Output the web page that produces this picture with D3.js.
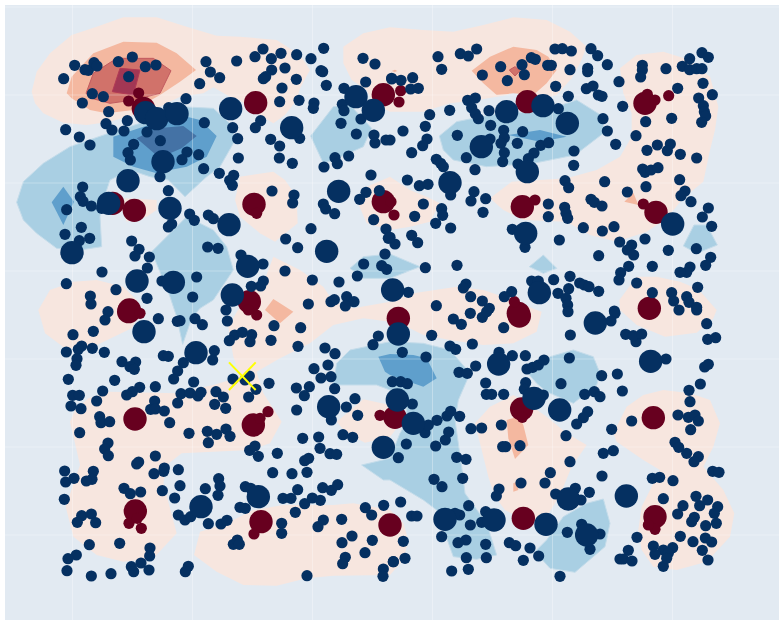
<!DOCTYPE html>
<html><head><meta charset="utf-8">
<script src="https://cdn.jsdelivr.net/npm/d3@7"></script>
<style>html,body{margin:0;padding:0;background:#fff}svg{display:block}</style>
</head><body><svg id="c" width="779" height="621"></svg>
<script>
// Data units are thirds of a plot step; each quadrant's readings are relative to its origin.
const originNW=[0,0], originNE=[1170,0], originSW=[0,930], originSE=[1170,930];

const navySmallNW=[[224,196],[255,209],[265,211],[282,188],[291,198],[355,185],[397,171],[436,200],[468,195],[191,236],[386,230],[277,281],[310,290],[247,309],[326,335],[382,362],[318,371],[336,390],[372,393],[197,389],[238,411],[270,435],[441,396],[481,422],[401,433],[384,458],[391,480],[561,456],[596,464],[546,479],[611,506],[480,530],[613,368],[558,296],[506,323],[618,185],[631,216],[659,233],[599,251],[710,183],[789,147],[765,170],[814,176],[843,160],[890,164],[933,176],[971,145],[815,210],[855,204],[797,230],[790,236],[889,238],[846,264],[839,305],[897,301],[942,309],[940,325],[963,212],[968,215],[979,256],[1032,265],[1027,313],[1032,332],[1083,357],[1023,370],[1069,402],[1122,405],[1125,429],[1158,420],[1046,468],[1005,473],[1012,491],[972,501],[1113,525],[1098,577],[1079,598],[1138,572],[1121,659],[1158,687],[1165,715],[1155,762],[1091,792],[1145,797],[1160,808],[1072,828],[1017,846],[937,840],[855,813],[877,490],[838,474],[839,438],[812,418],[899,415],[782,362],[766,383],[698,383],[713,416],[715,474],[658,520],[701,526],[689,541],[697,556],[816,573],[882,585],[878,609],[970,612],[977,627],[1004,641],[933,686],[857,717],[893,743],[723,765],[789,792],[790,843],[754,859],[782,858],[505,572],[248,561],[241,590],[249,604],[274,618],[305,625],[200,629],[244,682],[195,703],[269,715],[238,722],[395,723],[417,748],[405,768],[448,771],[442,804],[306,816],[199,851],[271,888],[273,912],[348,869],[441,895],[578,891],[590,831],[486,843],[623,741],[654,745],[569,642],[583,661],[625,645],[640,656],[515,672],[505,681],[925,912],[993,905],[1003,899],[1040,890],[1062,905],[1036,918],[1097,246],[1125,192],[1089,175],[1175,235]];
const navySmallNE=[[144,170],[155,208],[211,161],[235,168],[260,147],[277,225],[332,200],[352,242],[396,194],[403,224],[424,173],[436,178],[473,196],[484,196],[495,147],[517,146],[544,153],[540,209],[603,146],[623,167],[652,194],[593,205],[593,215],[497,259],[535,289],[505,326],[589,266],[609,258],[625,285],[636,289],[687,245],[757,196],[757,210],[752,231],[828,206],[877,199],[899,176],[899,209],[920,206],[936,206],[936,158],[955,172],[939,250],[863,265],[926,294],[967,284],[940,317],[943,335],[947,348],[935,367],[845,355],[767,365],[698,319],[738,407],[652,393],[639,356],[677,433],[552,453],[551,496],[233,301],[256,294],[245,323],[256,341],[265,356],[297,332],[302,376],[341,391],[343,413],[333,430],[382,430],[398,395],[300,417],[343,458],[338,485],[452,436],[476,428],[432,459],[415,476],[384,492],[229,473],[255,509],[202,406],[179,331],[119,344],[106,379],[39,393],[111,417],[98,437],[65,458],[139,478],[152,490],[160,500],[52,540],[88,557],[114,553],[182,585],[252,575],[243,603],[287,596],[279,637],[100,612],[155,626],[158,646],[74,649],[137,670],[182,684],[65,706],[83,728],[15,732],[0,712],[106,803],[201,796],[367,688],[405,742],[508,720],[475,612],[475,650],[524,622],[528,640],[533,655],[580,683],[637,693],[672,680],[525,542],[536,563],[644,545],[603,598],[613,607],[636,618],[712,576],[768,560],[758,507],[765,517],[783,510],[804,503],[771,451],[802,435],[841,432],[832,452],[871,463],[920,474],[869,539],[885,573],[873,587],[903,605],[955,624],[937,651],[965,679],[919,746],[962,772],[947,796],[900,801],[890,817],[870,817],[923,862],[835,751],[765,717],[689,726],[725,735],[712,750],[731,765],[626,767],[716,799],[692,818],[687,840],[787,799],[740,849],[787,878],[845,878],[851,903],[890,890],[897,907],[920,922],[491,839],[540,829],[569,849],[583,855],[597,860],[626,874],[504,880],[536,866],[528,895],[533,915],[425,843],[445,843],[365,875],[343,890],[228,852],[220,864],[242,890],[277,903],[298,925],[139,917],[55,877],[673,933],[5,237],[33,241],[68,233],[62,267],[85,265],[0,420]];
const navySmallSW=[[324,5],[315,30],[475,26],[532,34],[540,32],[585,26],[607,44],[682,33],[678,0],[219,74],[280,64],[245,108],[235,118],[277,115],[199,126],[313,127],[231,146],[228,166],[366,155],[407,156],[390,170],[403,178],[205,208],[344,211],[466,230],[419,232],[397,245],[380,255],[308,243],[218,256],[238,256],[290,273],[213,288],[243,296],[464,273],[452,298],[466,297],[493,303],[533,279],[543,251],[570,249],[594,258],[603,247],[648,245],[670,261],[644,283],[677,295],[509,338],[299,320],[303,338],[329,335],[239,368],[324,399],[314,417],[325,437],[416,456],[410,462],[466,438],[493,474],[491,484],[462,491],[535,479],[194,483],[197,516],[222,505],[280,484],[276,508],[259,513],[372,535],[391,551],[422,546],[193,568],[487,542],[540,527],[524,564],[616,536],[656,506],[660,528],[654,556],[736,530],[752,535],[849,565],[873,565],[893,539],[914,581],[937,564],[961,571],[968,533],[994,541],[1013,524],[886,607],[818,488],[876,491],[921,487],[914,452],[926,445],[832,430],[749,421],[765,408],[775,439],[567,370],[622,364],[650,373],[678,357],[690,379],[625,398],[704,75],[727,67],[755,74],[688,92],[750,95],[813,91],[822,47],[902,53],[894,109],[975,114],[1005,131],[1119,104],[1135,78],[984,165],[942,176],[963,204],[993,200],[1004,236],[928,230],[913,257],[889,234],[1065,266],[1039,291],[1073,316],[994,330],[890,300],[908,385],[956,381],[960,415],[1029,374],[1058,382],[990,431],[1010,433],[746,261],[768,238],[807,220],[699,207],[735,210],[748,198],[643,122],[638,150],[550,158],[533,183],[521,207],[581,216],[490,137],[505,139],[245,617],[274,612],[232,637],[287,638],[268,704],[359,700],[450,714],[449,738],[423,759],[394,770],[401,785],[447,780],[229,735],[204,746],[201,782],[274,798],[333,791],[565,769],[556,785],[700,703],[712,690],[718,703],[535,615],[555,630],[572,620],[625,641],[663,642],[681,631],[720,592],[736,595],[845,640],[845,670],[954,650],[970,630],[1025,628],[1026,698],[1056,678],[1117,691],[1095,728],[1036,742],[1028,761],[1150,777],[1149,799],[921,797],[1096,593],[1115,615],[1151,586],[1180,755]];
const navySmallSE=[[125,76],[190,27],[214,43],[241,10],[277,22],[290,5],[341,53],[247,102],[180,108],[197,118],[108,141],[37,127],[327,127],[367,137],[406,137],[411,177],[428,172],[445,165],[462,150],[538,144],[257,168],[207,187],[232,190],[287,219],[289,253],[305,253],[341,253],[513,221],[407,218],[403,238],[460,255],[584,253],[613,245],[630,260],[635,197],[682,192],[697,243],[593,305],[580,323],[560,342],[528,377],[665,358],[725,333],[670,422],[640,430],[540,455],[636,498],[481,488],[465,519],[393,519],[327,537],[319,558],[497,552],[556,535],[573,570],[598,547],[820,566],[863,612],[879,587],[929,587],[918,559],[953,570],[983,590],[973,610],[979,640],[947,647],[913,622],[905,635],[871,679],[946,684],[965,696],[909,695],[937,721],[954,750],[820,769],[848,713],[820,720],[835,730],[795,733],[790,708],[830,745],[741,682],[715,721],[690,747],[700,747],[726,753],[532,667],[630,672],[600,718],[575,643],[420,714],[446,738],[400,751],[358,698],[377,707],[510,799],[289,743],[287,703],[228,690],[204,698],[229,743],[185,783],[235,778],[241,645],[155,680],[236,587],[209,615],[195,610],[287,605],[275,637],[156,530],[132,508],[218,505],[200,442],[228,448],[137,408],[166,390],[176,366],[49,402],[25,443],[141,331],[171,318],[182,304],[209,319],[243,356],[275,354],[334,345],[347,410],[338,410],[390,407],[105,368],[115,345],[67,282],[32,576],[65,618],[81,618],[40,694],[45,745],[10,755],[7,215],[32,215],[52,221],[675,10],[663,33],[707,73],[738,95],[730,77],[755,72],[541,75],[534,5],[828,147],[950,41],[953,88],[977,83],[944,171],[955,163],[931,222],[897,241],[900,275],[864,315],[895,322],[915,315],[925,333],[902,359],[855,397],[866,412],[890,430],[925,440],[912,455],[968,484],[987,487],[787,505],[809,502],[849,512],[867,0],[920,0]];

const navyLargeNW=[[437,338],[470,356],[531,341],[692,326],[875,383],[1068,290],[1120,331],[489,485],[384,542],[510,625],[326,610],[687,674],[1016,574],[216,758],[411,843],[520,847],[743,799],[980,754],[697,885],[1178,870]];
const navyLargeNE=[[350,335],[459,317],[532,370],[274,440],[412,515],[180,548],[407,700],[848,672],[448,878]];
const navyLargeSW=[[432,65],[588,128],[986,290],[775,560],[603,590],[1150,412]];
const navyLargeSE=[[616,39],[782,154],[326,162],[25,72],[22,270],[432,265],[509,300],[70,340],[165,628],[312,630],[468,643],[535,567],[590,675],[709,558]];

const maroonLargeNW=[[430,325],[767,308],[1150,284],[338,610],[403,631],[762,613],[1150,605],[386,935],[748,905]];
const maroonLargeNE=[[412,305],[765,310],[397,620],[798,637],[778,925],[385,940]];
const maroonLargeSW=[[388,0],[405,327],[760,345],[406,603],[783,635]];
const maroonLargeSE=[[388,18],[790,323],[400,625],[395,297],[15,322],[0,645],[795,620],[25,25]];
const maroonSmallNW=[[416,279],[386,303],[770,640]];
const maroonSmallNE=[[32,272],[27,306],[836,287],[772,283],[795,300],[760,612],[435,600],[373,905],[12,645],[3,605]];
const maroonSmallSW=[[387,640],[424,655],[762,672],[804,305],[780,325],[1140,316],[412,625],[770,15],[745,0],[420,10]];
const maroonSmallSE=[[397,322],[795,658],[775,645]];

const crossMark=[[687,1087],[767,1170],[687,1170],[767,1087]];

const xGrid=[217.5,577.5,937.5,1297.5,1657.5,2017.5];
const yGrid=[21,285,549,813,1077,1341,1605];

// Contour bands, outermost level first, each as a list of outlines.
const bandWarm1=[
 [[95,275],[110,215],[150,160],[215,105],[290,80],[370,52],[470,52],[560,80],[650,107],[720,110],[830,120],[900,165],[930,210],[900,265],[890,300],[855,345],[820,370],[770,340],[720,300],[690,290],[640,262],[610,280],[540,290],[470,325],[400,345],[330,365],[260,375],[190,368],[130,340],[105,310]],
 [[1030,140],[1090,100],[1170,82],[1270,90],[1360,95],[1450,75],[1540,52],[1640,60],[1710,95],[1760,140],[1740,190],[1715,235],[1670,285],[1610,300],[1565,270],[1520,285],[1435,300],[1350,310],[1270,335],[1200,335],[1170,335],[1120,310],[1100,270],[1055,240],[1030,190]],
 [[1860,205],[1910,165],[1990,155],[2070,180],[2130,230],[2155,320],[2145,390],[2130,450],[2110,545],[2050,595],[2000,655],[1940,695],[1850,725],[1770,705],[1700,665],[1570,660],[1510,630],[1470,595],[1535,545],[1620,540],[1700,535],[1790,510],[1860,470],[1895,410],[1895,340],[1870,280]],
 [[705,600],[720,530],[820,515],[855,540],[890,590],[893,670],[825,725],[780,700],[720,650]],
 [[365,625],[375,595],[470,600],[470,630],[440,650],[380,665]],
 [[1070,600],[1100,560],[1170,530],[1230,570],[1280,590],[1320,610],[1290,665],[1230,680],[1170,690],[1100,670]],
 [[115,930],[150,870],[220,845],[290,840],[370,860],[410,900],[420,940],[395,985],[280,1040],[195,1045],[135,1000]],
 [[820,770],[900,810],[970,860],[1000,905],[1060,925],[1170,905],[1240,880],[1370,860],[1450,870],[1510,890],[1610,930],[1625,935],[1610,995],[1540,1030],[1450,1035],[1350,1020],[1270,1005],[1220,980],[1170,965],[1090,955],[1000,975],[930,1030],[840,1075],[770,1115],[790,1180],[845,1265],[810,1330],[750,1350],[545,1360],[500,1395],[490,1450],[530,1600],[460,1675],[370,1685],[290,1665],[220,1610],[197,1520],[240,1395],[210,1265],[225,1230],[265,1195],[330,1175],[530,1180],[640,1155],[690,1140],[720,1125],[700,1070],[685,980],[705,945],[750,870],[790,850]],
 [[582,1665],[600,1595],[680,1570],[760,1530],[850,1515],[1000,1515],[1060,1510],[1170,1530],[1210,1570],[1225,1620],[1210,1680],[1170,1725],[1000,1727],[920,1735],[830,1757],[730,1755],[650,1715]],
 [[1425,1270],[1470,1220],[1540,1185],[1590,1215],[1640,1250],[1700,1300],[1760,1335],[1715,1400],[1680,1485],[1640,1550],[1590,1570],[1515,1530],[1485,1490],[1465,1430],[1440,1330]],
 [[1840,1300],[1880,1220],[1930,1185],[1990,1170],[2070,1180],[2130,1200],[2160,1270],[2140,1340],[2110,1400],[2170,1470],[2203,1540],[2190,1610],[2120,1685],[2030,1710],[1960,1700],[1925,1650],[1915,1590],[1925,1520],[1980,1410],[1930,1380],[1850,1325]],
 [[1858,900],[1910,830],[1970,830],[2040,845],[2095,868],[2150,930],[2140,955],[2090,998],[1995,1010],[1910,975],[1860,930]],
 [[1010,1265],[1090,1198],[1170,1215],[1215,1255],[1170,1310],[1095,1328],[1040,1300]]
];
const bandWarm2=[
 [[200,280],[215,230],[280,160],[370,125],[470,128],[530,160],[588,210],[540,245],[480,285],[400,330],[320,340],[270,330],[215,295]],
 [[1415,212],[1470,170],[1540,140],[1610,150],[1645,170],[1670,210],[1640,250],[1600,285],[1540,280],[1490,285],[1450,250]],
 [[1873,605],[1900,578],[1915,615]],
 [[795,930],[820,897],[880,935],[840,970]],
 [[1520,1260],[1555,1250],[1570,1275],[1585,1335],[1545,1377],[1525,1315]],
 [[1540,1450],[1550,1445],[1555,1470],[1540,1475]],
 [[1175,213],[1185,209],[1192,213],[1184,216]]
];
const bandWarm3=[
 [[258,280],[280,220],[350,175],[460,175],[513,212],[480,280],[400,300],[330,310],[275,295]],
 [[1528,210],[1545,200],[1560,212],[1545,228]]
];
const bandWarm4=[[[337,275],[360,205],[420,210],[400,285]]];
const bandCool1=[
 [[50,607],[70,545],[130,490],[210,440],[340,395],[420,370],[540,320],[640,325],[700,380],[700,430],[660,500],[620,530],[555,590],[505,540],[450,530],[390,510],[330,540],[310,600],[300,650],[305,740],[240,750],[170,745],[110,700],[70,660]],
 [[932,408],[1000,320],[1050,315],[1115,385],[1090,440],[1000,480],[970,490]],
 [[455,755],[560,650],[640,690],[680,740],[700,810],[640,900],[600,925],[575,955],[548,1033],[530,950],[510,890],[490,840]],
 [[1050,805],[1090,770],[1170,762],[1260,800],[1170,835],[1090,835]],
 [[1318,408],[1370,365],[1470,345],[1590,335],[1670,320],[1730,300],[1810,350],[1810,400],[1725,465],[1600,490],[1460,500],[1360,480],[1330,450]],
 [[2050,738],[2082,675],[2120,675],[2152,735],[2090,760]],
 [[1588,800],[1630,765],[1670,805],[1630,820]],
 [[1000,1155],[1010,1090],[1050,1050],[1170,1025],[1270,1030],[1350,1050],[1410,1120],[1375,1200],[1365,1260],[1385,1400],[1395,1480],[1460,1570],[1490,1665],[1430,1678],[1360,1670],[1310,1530],[1270,1500],[1170,1440],[1150,1440],[1085,1395],[1170,1375],[1200,1300],[1215,1275],[1220,1220],[1210,1175],[1170,1170],[1130,1155]],
 [[1580,1115],[1630,1095],[1650,1070],[1720,1050],[1780,1070],[1800,1120],[1790,1155],[1720,1210],[1640,1175],[1610,1150]],
 [[1605,1655],[1640,1620],[1690,1550],[1760,1510],[1810,1497],[1830,1570],[1815,1640],[1725,1717],[1650,1705]]
];
const bandCool2=[
 [[340,410],[430,380],[540,345],[600,360],[650,408],[620,470],[560,500],[510,510],[470,520],[400,500],[340,470]],
 [[155,607],[190,560],[222,605],[190,675]],
 [[1525,405],[1620,390],[1700,410],[1620,425]],
 [[1135,1070],[1170,1062],[1240,1065],[1280,1075],[1310,1135],[1270,1160],[1170,1125],[1155,1115]]
];
const bandCool3=[[[410,415],[470,385],[550,378],[590,408],[545,445],[510,460],[465,462]]];

const bandStyles=[[bandWarm1,"#f7e6df","none"],[bandWarm2,"#f4b8a0","none"],[bandWarm3,"#d1726a","#c25a5f"],[bandWarm4,"#a23754","#b23a55"],
                  [bandCool1,"#a9cfe3","#c4dcea"],[bandCool2,"#5f9fcc","none"],[bandCool3,"#4472a5","none"]];

const W=779,H=621;
const x=d3.scaleLinear().domain([0,2337]).range([0,W]);
const y=d3.scaleLinear().domain([0,1863]).range([0,H]);
const svg=d3.select("#c");
const plot={l:x(15),t:y(15),r:x(2337),b:y(1860)};

svg.append("rect").attr("width",W).attr("height",H).attr("fill","#fff");
svg.append("rect").attr("x",plot.l).attr("y",plot.t).attr("width",plot.r-plot.l).attr("height",plot.b-plot.t).attr("fill","#e2eaf2");

const line=d3.line().x(d=>x(d[0])).y(d=>y(d[1])).curve(d3.curveLinearClosed);
bandStyles.forEach(([polys,color,edge])=>{
  svg.append("g").selectAll("path").data(polys).join("path").attr("d",line).attr("fill",color).attr("stroke",edge).attr("stroke-width",1);
});

const grid=svg.append("g").attr("stroke","#fff").attr("stroke-opacity",0.3).attr("stroke-width",1);
grid.selectAll("line.v").data(xGrid).join("line").attr("class","v").attr("x1",d=>x(d)).attr("x2",d=>x(d)).attr("y1",plot.t).attr("y2",plot.b);
grid.selectAll("line.h").data(yGrid).join("line").attr("class","h").attr("y1",d=>y(d)).attr("y2",d=>y(d)).attr("x1",plot.l).attr("x2",plot.r);

function placed(sets){ return sets.flatMap(([o,pts])=>pts.map(p=>[o[0]+p[0],o[1]+p[1]])); }
function dots(pts,color,r){
  svg.append("g").selectAll("circle").data(pts).join("circle")
    .attr("cx",d=>x(d[0])).attr("cy",d=>y(d[1])).attr("r",r).attr("fill",color);
}
dots(placed([[originNW,maroonLargeNW],[originNE,maroonLargeNE],[originSW,maroonLargeSW],[originSE,maroonLargeSE]]),"#67001f",11.7);
dots(placed([[originNW,maroonSmallNW],[originNE,maroonSmallNE],[originSW,maroonSmallSW],[originSE,maroonSmallSE]]),"#67001f",5.6);
dots(placed([[originNW,navySmallNW],[originNE,navySmallNE],[originSW,navySmallSW],[originSE,navySmallSE]]),"#053061",5.6);
dots(placed([[originNW,navyLargeNW],[originNE,navyLargeNE],[originSW,navyLargeSW],[originSE,navyLargeSE]]),"#053061",11.7);

const cross=svg.append("g").attr("stroke","#ffff00").attr("stroke-width",2);
[[0,1],[2,3]].forEach(([a,b])=>{
  cross.append("line").attr("x1",x(crossMark[a][0])).attr("y1",y(crossMark[a][1])).attr("x2",x(crossMark[b][0])).attr("y2",y(crossMark[b][1]));
});
</script></body></html>
